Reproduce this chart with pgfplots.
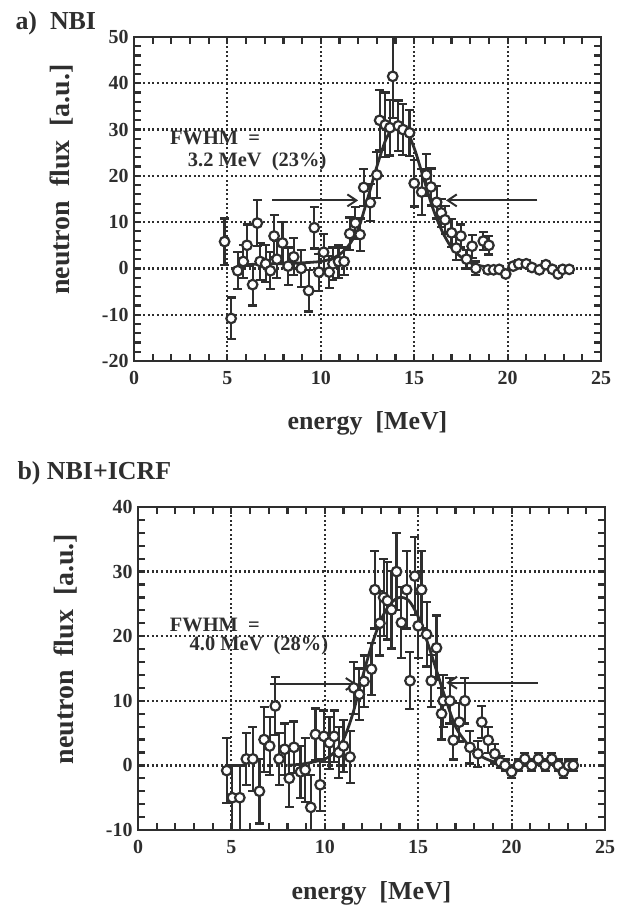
\documentclass[border=0pt]{standalone}
\usepackage{fontspec}
\setmainfont{Liberation Serif}
\usepackage{pgfplots}
\usepackage{pgfplotstable}
\pgfplotsset{compat=1.18}
\usetikzlibrary{arrows.meta}
\definecolor{ink}{HTML}{2E2E2E}

% a) NBI : energy, flux, error
\pgfplotstableread{
x y e
4.85 5.8 5
5.2 -10.8 4.5
5.55 -0.5 4
5.85 1.5 3.5
6.05 5.0 4.5
6.35 -3.5 4.5
6.6 9.8 5
6.75 1.5 4
7.05 1.0 4
7.3 -0.5 4
7.5 7.0 4.5
7.65 2.0 4
7.95 5.5 4.5
8.25 0.5 4
8.55 2.5 4
8.95 0.0 4
9.35 -4.8 4.5
9.65 8.8 4.5
9.9 -0.8 4
10.15 3.5 4
10.45 -0.8 3.5
10.65 1.0 3.5
10.95 1.5 3.5
11.25 1.5 3
11.55 7.5 3.5
11.85 9.8 3.5
12.1 7.3 3.5
12.3 17.5 4
12.65 14.2 4
13.0 20.2 5
13.15 32.0 6.5
13.45 31.0 7
13.7 30.4 6
13.85 41.5 9
14.15 30.8 5.5
14.4 30.0 5.5
14.75 29.3 5
15.0 18.4 5
15.4 16.5 5
15.65 20.2 4.5
15.9 17.6 4
16.2 14.3 3.5
16.45 12.0 3
16.65 10.5 3
17.0 7.7 3
17.25 4.4 2.5
17.5 7.0 2.5
17.8 2.0 2
18.1 4.8 2.5
18.3 0.0 1.5
18.7 5.9 2
19.0 5.0 2
18.95 -0.3 0.7
19.25 -0.3 0.7
19.55 -0.2 0.7
19.9 -1.2 0.7
20.3 0.5 0.7
20.6 1.0 0.7
21.0 1.0 0.7
21.3 0.2 0.7
21.7 -0.3 0.7
22.05 0.8 0.7
22.4 -0.2 0.7
22.7 -1.2 0.7
22.95 -0.2 0.7
23.3 -0.2 0.7
}\nbi

% b) NBI+ICRF
\pgfplotstableread{
x y e
4.75 -0.8 5
5.05 -5.0 5
5.45 -5.0 5
5.8 1.0 4
6.15 1.0 5
6.5 -4.0 5
6.75 4.0 5
7.05 3.0 4.5
7.35 9.2 4.5
7.55 1.0 4
7.85 2.5 4
8.1 -2.0 4.5
8.35 2.8 4
8.7 -1.0 4
8.95 -0.7 5
9.25 -6.5 5
9.5 4.8 4
9.75 -3.0 4
9.95 4.5 4
10.25 3.5 4
10.5 4.5 4
10.75 2.0 4
11.0 3.0 4
11.35 1.3 4
11.55 12.0 4
11.85 11.0 4
12.1 13.0 4
12.5 14.9 4
12.68 27.2 6
12.95 22.0 5
13.15 26.0 6
13.35 25.5 6
13.57 24.1 6
13.84 30.0 6
14.1 22.1 5.5
14.38 27.2 6
14.56 13.1 4.4
14.82 29.3 6
15.0 21.6 5
15.18 27.2 6
15.45 20.3 5
15.7 13.1 4
15.98 18.2 5
16.25 8.0 4
16.34 10.0 4
16.7 10.0 3.5
16.88 3.9 3
17.2 6.7 3
17.5 10.0 3.5
17.77 2.8 2.5
18.2 1.8 2
18.4 6.7 2.5
18.75 3.9 2
19.1 1.8 1.5
19.4 0.5 0.9
19.65 0.0 0.9
20.0 -1.0 0.9
20.36 0.0 0.9
20.71 1.0 0.9
21.07 0.0 0.9
21.43 1.0 0.9
21.79 0.0 0.9
22.15 1.0 0.9
22.5 0.0 0.9
22.77 -1.0 0.9
23.04 0.0 0.9
23.3 0.0 0.9
}\icrf

% fitted curves
\pgfplotstableread{
x y
6 0.8
7 1
8 1
9 1.2
10 1.5
10.5 2
11 3
11.5 5
12 8.5
12.5 15
13 22
13.5 28
14 31
14.5 30.5
15 26
15.5 19.5
16 13
16.5 8
17 4.5
17.5 2.5
18 1.2
18.5 0.6
19 0.3
19.5 0.2
}\fitnbi

\pgfplotstableread{
x y
8 0
9 0.3
10 1
10.5 2
11 4
11.5 8
12 13.5
12.5 18.5
13 22.5
13.5 25
14 26
14.5 25.5
15 23
15.5 19
16 14.5
16.5 10
17 6
17.5 3.8
18 2.2
18.5 1.2
19 0.6
19.5 0.2
}\fiticrf

\newcommand{\tickfont}{\fontsize{20}{20}\selectfont\bfseries}
\newcommand{\labfont}{\fontsize{26}{26}\selectfont\bfseries}
\newcommand{\ylabfont}{\fontsize{28}{28}\selectfont\bfseries}
\newcommand{\txtfont}{\fontsize{20.5}{20.5}\selectfont\bfseries}

\pgfplotsset{
  spec/.style={
    scale only axis, width=467bp,
    xmin=0, xmax=25, xtick={0,5,...,25},
    minor x tick num=4, minor y tick num=4,
    tick align=inside, xtick pos=both, ytick pos=both,
    major tick length=7bp, minor tick length=7bp,
    tick style={ink, line width=2.2bp},
    axis line style={ink, line width=2.8bp},
    grid=major,
    major grid style={ink, line width=2.2bp, dash pattern=on 2bp off 2.6bp},
    /pgf/number format/assume math mode=true,
    tick label style={font=\tickfont, text=ink},
    xticklabel style={yshift=-7bp},
    yticklabel style={xshift=-2bp},
    xlabel={energy\ \ [MeV]}, ylabel={neutron\ \ flux\ \ [a.u.]},
    every axis x label/.style={at={(axis description cs:0.5,0)}, anchor=base,
      yshift=-69bp, font=\labfont, text=ink},
    every axis y label/.style={at={(axis description cs:-0.155,0.56)}, anchor=center,
      rotate=90, font=\ylabfont, text=ink},
  },
  pts/.style={only marks, mark=*, mark size=4.8bp,
    mark options={fill=white, draw=ink, line width=2.2bp}},
  eb/.style={error bars/.cd, y dir=both, y explicit,
    error bar style={ink, line width=2.2bp},
    error mark options={rotate=90, ink, line width=2.2bp, mark size=4.5bp}},
  fit/.style={ink, line width=2.8bp, no marks, smooth},
  fwhm/.style={ink, line width=2.2bp, -{Straight Barb[length=9bp, width=12bp, line width=2bp]}},
}

\begin{document}
\begin{tikzpicture}
\path[use as bounding box] (-138bp,-75bp) rectangle (483bp,830bp);

\begin{axis}[spec, at={(-4bp,469bp)}, anchor=south west,
  height=324bp, ymin=-20, ymax=50, ytick={-20,-10,...,50}]
\addplot[fit] table[x=x, y=y] {\fitnbi};
\addplot[fwhm] coordinates {(7.4,14.7) (12.0,14.7)};
\addplot[fwhm] coordinates {(21.6,14.7) (16.7,14.7)};
\addplot[pts, eb] table[x=x, y=y, y error=e] {\nbi};
\node[anchor=base west, font=\txtfont, text=ink] at (axis cs:1.75,26.8) {FWHM\ \ =};
\node[anchor=base west, font=\txtfont, text=ink] at (axis cs:2.7,22.1) {3.2\ MeV\ \ (23\%)};
\end{axis}

\begin{axis}[spec, at={(0bp,0bp)}, anchor=south west,
  height=323bp, ymin=-10, ymax=40, ytick={-10,0,...,40}]
\addplot[fit] table[x=x, y=y] {\fiticrf};
\addplot[fwhm] coordinates {(7.05,12.6) (11.7,12.6)};
\addplot[fwhm] coordinates {(21.4,12.8) (16.5,12.8)};
\addplot[pts, eb] table[x=x, y=y, y error=e] {\icrf};
\node[anchor=base west, font=\txtfont, text=ink] at (axis cs:1.52,20.8) {FWHM\ \ =};
\node[anchor=base west, font=\txtfont, text=ink] at (axis cs:2.58,17.8) {4.0\ MeV\ \ (28\%)};
\end{axis}

\node[anchor=base west, font=\labfont, text=ink] at (-126bp,800bp) {a)\ \ NBI};
\node[anchor=base west, font=\labfont, text=ink] at (-124bp,350bp) {b)\ NBI+ICRF};
\end{tikzpicture}
\end{document}
